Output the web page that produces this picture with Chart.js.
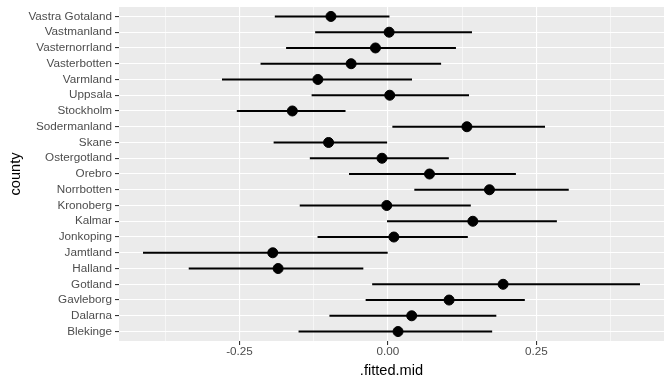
<!DOCTYPE html>
<html>
<head>
<meta charset="utf-8">
<script src="https://cdn.jsdelivr.net/npm/chart.js@4"></script>
<style>
  html, body { margin: 0; padding: 0; background: #fff; }
</style>
</head>
<body>
<canvas id="c" width="672" height="384"></canvas>
<script>
// counties, bottom to top (ggplot puts the first level at the bottom)
const counties = ["Blekinge", "Dalarna", "Gavleborg", "Gotland", "Halland", "Jamtland",
  "Jonkoping", "Kalmar", "Kronoberg", "Norrbotten", "Orebro", "Ostergotland", "Skane",
  "Sodermanland", "Stockholm", "Uppsala", "Varmland", "Vasterbotten", "Vasternorrland",
  "Vastmanland", "Vastra Gotaland"];
const fittedLow = [-0.150, -0.098, -0.037, -0.026, -0.335, -0.412, -0.118, -0.001, -0.148,
  0.045, -0.065, -0.131, -0.192, 0.008, -0.254, -0.128, -0.279, -0.214, -0.171, -0.122, -0.190];
const fittedMid = [0.017, 0.040, 0.103, 0.194, -0.185, -0.194, 0.010, 0.143, -0.002,
  0.171, 0.070, -0.010, -0.100, 0.133, -0.161, 0.003, -0.118, -0.062, -0.021, 0.002, -0.096];
const fittedHigh = [0.175, 0.182, 0.230, 0.424, -0.042, -0.001, 0.134, 0.284, 0.139,
  0.304, 0.215, 0.102, -0.002, 0.264, -0.072, 0.136, 0.040, 0.089, 0.114, 0.141, 0.002];
const xTicks = [-0.375, -0.25, -0.125, 0, 0.125, 0.25, 0.375];
const xLabels = { "-0.25": "-0.25", "0": "0.00", "0.25": "0.25" };

const FONT = "'Liberation Sans', Arial, sans-serif";
const isMajor = v => Object.prototype.hasOwnProperty.call(xLabels, String(v));

const panelBg = {
  id: "panelBg",
  beforeDraw(chart) {
    const { ctx, chartArea: a } = chart;
    ctx.save();
    ctx.fillStyle = "#EBEBEB";
    ctx.fillRect(a.left, a.top, a.right - a.left, a.bottom - a.top);
    ctx.restore();
  }
};

new Chart(document.getElementById("c"), {
  data: {
    datasets: [
      {
        type: "scatter",
        data: counties.map((c, i) => ({ x: fittedMid[i], y: i })),
        backgroundColor: "#000",
        borderColor: "#000",
        pointRadius: 5,
        order: 0
      },
      {
        type: "bar",
        indexAxis: "y",
        data: counties.map((c, i) => ({ x: [fittedLow[i], fittedHigh[i]], y: i })),
        backgroundColor: "#000",
        borderWidth: 0,
        barThickness: 1.4,
        order: 1
      }
    ]
  },
  options: {
    responsive: false,
    animation: false,
    devicePixelRatio: 1,
    layout: { padding: { left: 7, right: 8, top: 7, bottom: 4 } },
    plugins: { legend: { display: false }, tooltip: { enabled: false } },
    scales: {
      x: {
        type: "linear",
        offset: false,
        min: -0.453,
        max: 0.465,
        afterBuildTicks: s => { s.ticks = xTicks.map(v => ({ value: v })); },
        afterFit: s => { s.height = 39; s.paddingLeft = 0; s.paddingRight = 0; },
        border: { display: false },
        grid: {
          offset: false,
          color: "#FFFFFF",
          lineWidth: c => (isMajor(c.tick.value) ? 1.1 : 0.55),
          tickColor: c => (isMajor(c.tick.value) ? "#333333" : "rgba(0,0,0,0)"),
          tickLength: 4,
          tickWidth: 1.1
        },
        ticks: {
          autoSkip: false,
          maxRotation: 0,
          padding: 0,
          color: "#4D4D4D",
          font: { family: FONT, size: 11.7 },
          callback: v => (isMajor(v) ? xLabels[String(v)] : "")
        },
        title: {
          display: true,
          text: ".fitted.mid",
          color: "#000",
          font: { family: FONT, size: 14.6 },
          padding: { top: 0, bottom: 0 }
        }
      },
      y: {
        type: "linear",
        offset: false,
        min: -0.6,
        max: counties.length - 0.4,
        afterBuildTicks: s => { s.ticks = counties.map((c, i) => ({ value: i })); },
        afterFit: s => { s.width = 112; s.paddingTop = 0; s.paddingBottom = 0; },
        border: { display: false },
        grid: {
          offset: false,
          color: "#FFFFFF",
          lineWidth: 1.1,
          tickColor: "#333333",
          tickLength: 4,
          tickWidth: 1.1
        },
        ticks: {
          autoSkip: false,
          padding: 3,
          color: "#4D4D4D",
          font: { family: FONT, size: 11.7 },
          callback: v => counties[v]
        },
        title: {
          display: true,
          text: "county",
          color: "#000",
          font: { family: FONT, size: 14.6 },
          padding: { top: 0, bottom: 0 }
        }
      }
    }
  },
  plugins: [panelBg]
});
</script>
</body>
</html>
